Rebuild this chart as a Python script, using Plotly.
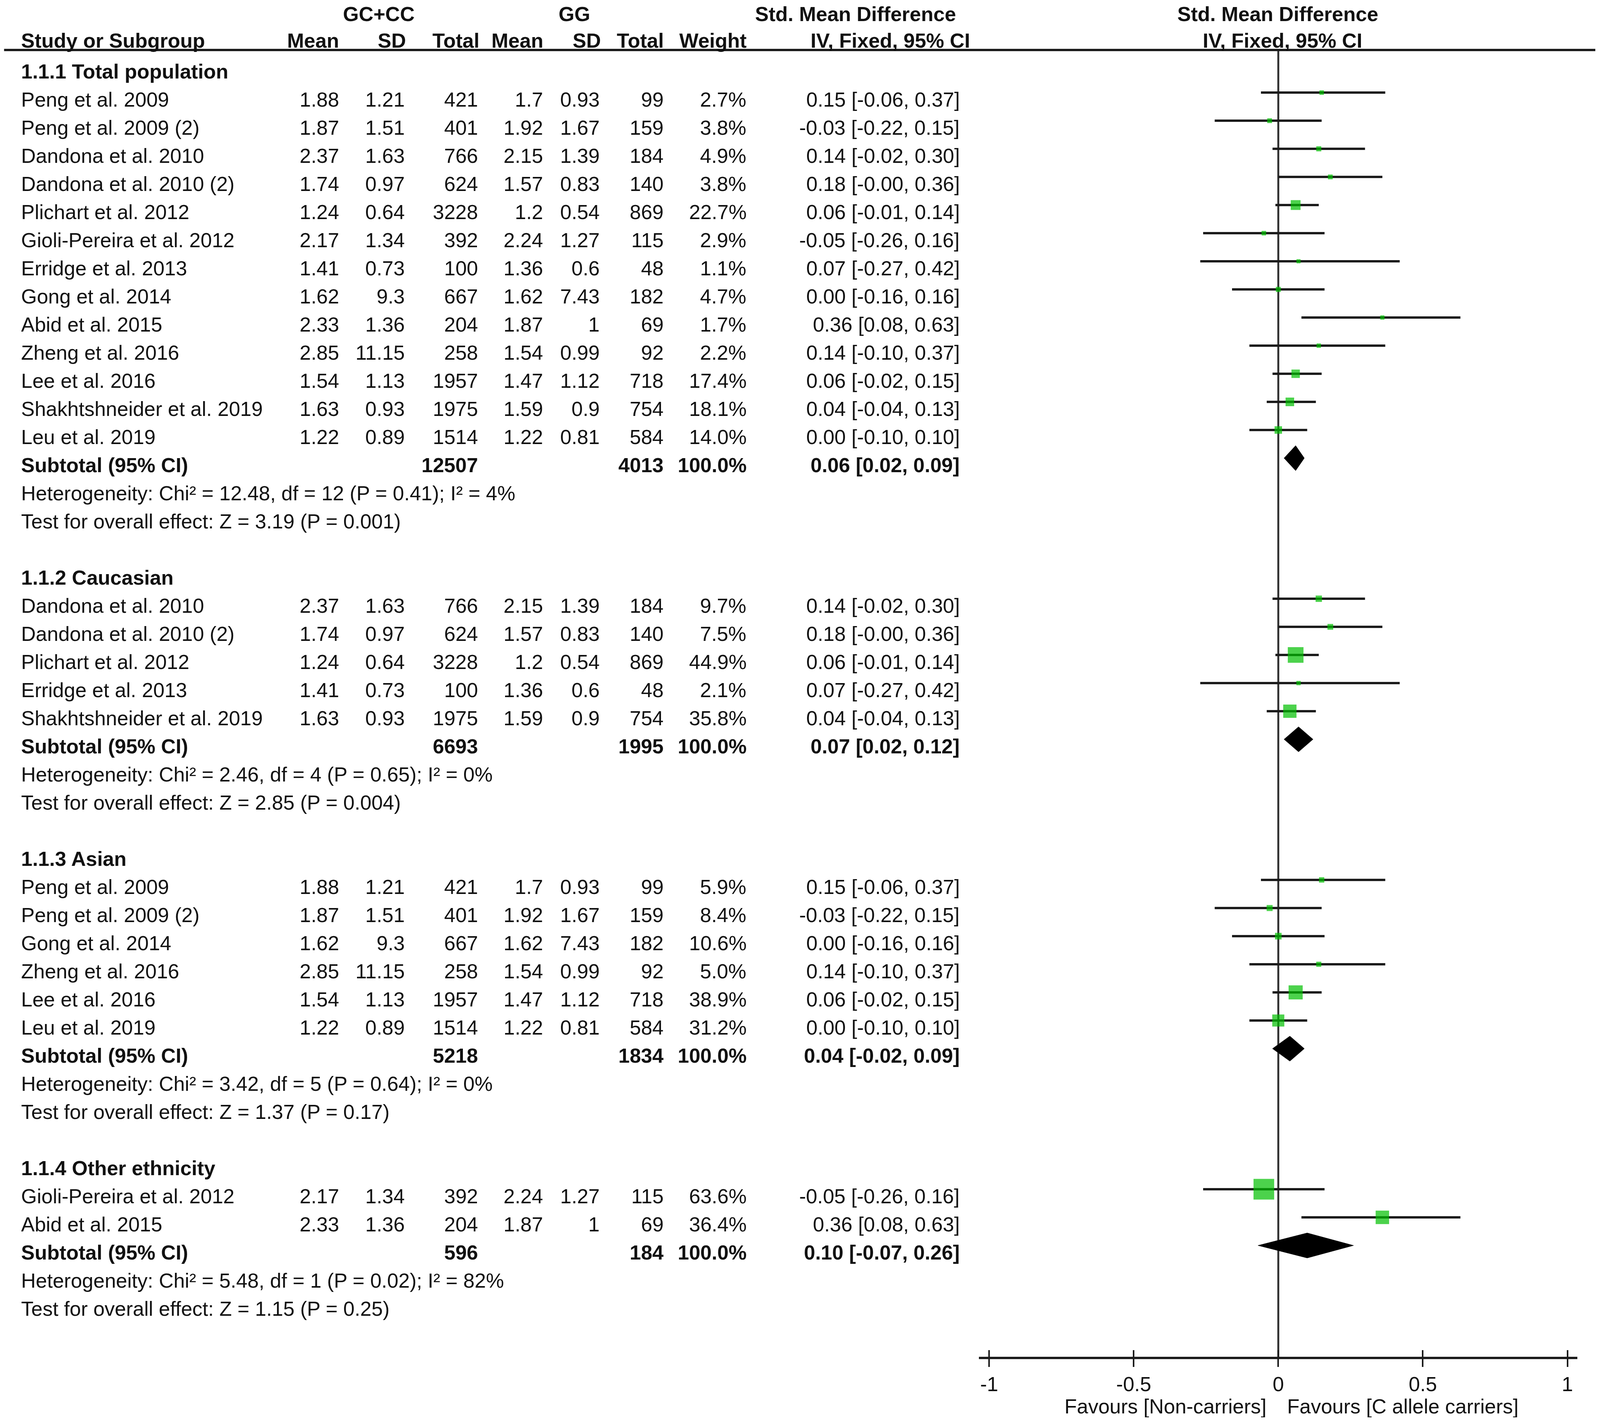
import plotly.graph_objects as go

# ---------------- data ----------------
study_names = ["Peng et al. 2009", "Peng et al. 2009 (2)", "Dandona et al. 2010", "Dandona et al. 2010 (2)",
               "Plichart et al. 2012", "Gioli-Pereira et al. 2012", "Erridge et al. 2013", "Gong et al. 2014",
               "Abid et al. 2015", "Zheng et al. 2016", "Lee et al. 2016", "Shakhtshneider et al. 2019",
               "Leu et al. 2019"]
gc_mean = [1.88, 1.87, 2.37, 1.74, 1.24, 2.17, 1.41, 1.62, 2.33, 2.85, 1.54, 1.63, 1.22]
gc_sd = [1.21, 1.51, 1.63, 0.97, 0.64, 1.34, 0.73, 9.3, 1.36, 11.15, 1.13, 0.93, 0.89]
gc_total = [421, 401, 766, 624, 3228, 392, 100, 667, 204, 258, 1957, 1975, 1514]
gg_mean = [1.7, 1.92, 2.15, 1.57, 1.2, 2.24, 1.36, 1.62, 1.87, 1.54, 1.47, 1.59, 1.22]
gg_sd = [0.93, 1.67, 1.39, 0.83, 0.54, 1.27, 0.6, 7.43, 1, 0.99, 1.12, 0.9, 0.81]
gg_total = [99, 159, 184, 140, 869, 115, 48, 182, 69, 92, 718, 754, 584]
smd = [0.15, -0.03, 0.14, 0.18, 0.06, -0.05, 0.07, 0.00, 0.36, 0.14, 0.06, 0.04, 0.00]
ci_low = [-0.06, -0.22, -0.02, -0.00, -0.01, -0.26, -0.27, -0.16, 0.08, -0.10, -0.02, -0.04, -0.10]
ci_high = [0.37, 0.15, 0.30, 0.36, 0.14, 0.16, 0.42, 0.16, 0.63, 0.37, 0.15, 0.13, 0.10]

group_titles = ["1.1.1 Total population", "1.1.2 Caucasian", "1.1.3 Asian", "1.1.4 Other ethnicity"]
group_members = [[0, 1, 2, 3, 4, 5, 6, 7, 8, 9, 10, 11, 12],
                 [2, 3, 4, 6, 11],
                 [0, 1, 7, 9, 10, 12],
                 [5, 8]]
group_weights = [[2.7, 3.8, 4.9, 3.8, 22.7, 2.9, 1.1, 4.7, 1.7, 2.2, 17.4, 18.1, 14.0],
                 [9.7, 7.5, 44.9, 2.1, 35.8],
                 [5.9, 8.4, 10.6, 5.0, 38.9, 31.2],
                 [63.6, 36.4]]
sub_gc_total = [12507, 6693, 5218, 596]
sub_gg_total = [4013, 1995, 1834, 184]
sub_smd = [0.06, 0.07, 0.04, 0.10]
sub_low = [0.02, 0.02, -0.02, -0.07]
sub_high = [0.09, 0.12, 0.09, 0.26]
het_chi2 = ["12.48", "2.46", "3.42", "5.48"]
het_df = [12, 4, 5, 1]
het_p = ["0.41", "0.65", "0.64", "0.02"]
het_i2 = [4, 0, 0, 82]
z_value = ["3.19", "2.85", "1.37", "1.15"]
z_p = ["0.001", "0.004", "0.17", "0.25"]

tick_vals = [-1, -0.5, 0, 0.5, 1]
tick_text = ["-1", "-0.5", "0", "0.5", "1"]

# ---------------- geometry (reference pixels -> page) ----------------
REF_W, REF_H = 4317, 3641
VIEW_W, VIEW_H = 4096, 3641          # visible browser viewport
BODY = 8                             # default body margin of the page
SX = VIEW_W / REF_W
W_F = VIEW_W - 2 * BODY - 4
H_F = VIEW_H - 2 * BODY - 4

FONT = "Liberation Sans"
FS = 52
TXT = "#111111"
GREEN = "#00BF00"
LINEC = "#1c1c1c"
ROW0 = 183.0      # reference pixel of row 0 centre
ROWH = 72.0       # reference pixel row height
GOFF = -0.25      # graphics sit slightly above the text centre
ZERO_X = 3449.0   # reference pixel of x = 0
UNIT_X = 780.0    # reference pixels per unit
XR = 1.035
AXIS_Y = 3477.0
HEADLINE_Y = 128.0


def row_of(ref_y):
    return (ref_y - ROW0) / ROWH


def px(ref_x):
    return (ref_x * SX - BODY) / W_F


col_name = 55
col_m1, col_s1, col_t1 = 917, 1094, 1292
col_m2, col_s2, col_t2 = 1467, 1620, 1793
col_w = 2016
col_ci = 2592

annotations = []


def txt(ref_x, row, s, anchor="right", bold=False, size=FS):
    annotations.append(dict(
        x=px(ref_x), xref="paper", y=row, yref="y",
        text=f"<b>{s}</b>" if bold else s,
        xanchor=anchor, yanchor="middle", showarrow=False,
        font=dict(family=FONT, size=size, color=TXT)))


def f2(v):
    return f"{v:.2f}"


# headers
rh1 = row_of(36)
rh2 = row_of(104)
txt(1022, rh1, "GC+CC", "center", True)
txt(1550, rh1, "GG", "center", True)
txt(2308, rh1, "Std. Mean Difference", "center", True)
txt(3448, rh1, "Std. Mean Difference", "center", True)
txt(col_name, rh2, "Study or Subgroup", "left", True)
txt(col_m1, rh2, "Mean", "right", True)
txt(col_s1 + 3, rh2, "SD", "right", True)
txt(col_t1 + 3, rh2, "Total", "right", True)
txt(col_m2 + 1, rh2, "Mean", "right", True)
txt(col_s2 + 3, rh2, "SD", "right", True)
txt(col_t2, rh2, "Total", "right", True)
txt(col_w, rh2, "Weight", "right", True)
txt(2402, rh2, "IV, Fixed, 95% CI", "center", True)
txt(3460, rh2, "IV, Fixed, 95% CI", "center", True)

# body
ci_x, ci_y = [], []
sq_x, sq_y, sq_s = [], [], []
dia_x, dia_y = [], []
DH = 0.445

row = 0
for g, title in enumerate(group_titles):
    txt(col_name, row, title, "left", True)
    row += 1
    for k, i in enumerate(group_members[g]):
        w = group_weights[g][k]
        txt(col_name, row, study_names[i], "left")
        txt(col_m1, row, str(gc_mean[i]))
        txt(col_s1, row, str(gc_sd[i]))
        txt(col_t1, row, str(gc_total[i]))
        txt(col_m2, row, str(gg_mean[i]))
        txt(col_s2, row, str(gg_sd[i]))
        txt(col_t2, row, str(gg_total[i]))
        txt(col_w, row, f"{w:.1f}%")
        txt(col_ci, row, f"{f2(smd[i])} [{f2(ci_low[i])}, {f2(ci_high[i])}]")
        yy = row + GOFF
        ci_x += [ci_low[i], ci_high[i], None]
        ci_y += [yy, yy, None]
        sq_x.append(smd[i])
        sq_y.append(yy)
        sq_s.append(0.97 * (10 + 0.7 * w))
        row += 1
    # subtotal
    txt(col_name, row, "Subtotal (95% CI)", "left", True)
    txt(col_t1, row, str(sub_gc_total[g]), "right", True)
    txt(col_t2, row, str(sub_gg_total[g]), "right", True)
    txt(col_w, row, "100.0%", "right", True)
    txt(col_ci, row, f"{f2(sub_smd[g])} [{f2(sub_low[g])}, {f2(sub_high[g])}]", "right", True)
    yy = row + GOFF
    dia_x += [sub_low[g], sub_smd[g], sub_high[g], sub_smd[g], sub_low[g], None]
    dia_y += [yy, yy - DH, yy, yy + DH, yy, None]
    row += 1
    txt(col_name, row, f"Heterogeneity: Chi² = {het_chi2[g]}, df = {het_df[g]} (P = {het_p[g]}); I² = {het_i2[g]}%", "left")
    row += 1
    txt(col_name, row, f"Test for overall effect: Z = {z_value[g]} (P = {z_p[g]})", "left")
    row += 2

# favours labels
rfav = row_of(3601)
annotations.append(dict(x=0, xref="x", y=rfav, yref="y", text="Favours [Non-carriers]",
                        xanchor="right", yanchor="middle", xshift=-30 * SX, showarrow=False,
                        font=dict(family=FONT, size=FS, color=TXT)))
annotations.append(dict(x=0, xref="x", y=rfav, yref="y", text="Favours [C allele carriers]",
                        xanchor="left", yanchor="middle", xshift=22 * SX, showarrow=False,
                        font=dict(family=FONT, size=FS, color=TXT)))

fig = go.Figure()
fig.add_trace(go.Scatter(x=ci_x, y=ci_y, mode="lines", line=dict(color=LINEC, width=6),
                         hoverinfo="skip", showlegend=False))
fig.add_trace(go.Scatter(x=sq_x, y=sq_y, mode="markers",
                         marker=dict(symbol="square", size=sq_s, color=GREEN, line=dict(width=0)),
                         showlegend=False))
fig.add_trace(go.Scatter(x=dia_x, y=dia_y, mode="lines", fill="toself", fillcolor="#000000",
                         line=dict(color="#000000", width=1), showlegend=False))
# helper (invisible) trace so the overlay axis with inward ticks is drawn
fig.add_trace(go.Scatter(x=tick_vals, y=[None] * len(tick_vals), xaxis="x2", mode="markers",
                         showlegend=False, hoverinfo="skip"))

y_top = row_of(BODY)
y_bot = row_of(BODY + H_F)
xdom = [px(ZERO_X - XR * UNIT_X), px(ZERO_X + XR * UNIT_X)]
axis_pos = 1 - (AXIS_Y - BODY) / H_F

fig.update_layout(
    width=W_F, height=H_F,
    margin=dict(l=0, r=0, t=0, b=0),
    paper_bgcolor="white", plot_bgcolor="rgba(0,0,0,0)",
    showlegend=False,
    xaxis=dict(domain=xdom, range=[-XR, XR], anchor="free", position=axis_pos,
               showgrid=False, zeroline=False, showline=True, linewidth=6, linecolor=LINEC,
               ticks="outside", ticklen=20, tickwidth=4, tickcolor=LINEC,
               tickvals=tick_vals, ticktext=tick_text,
               tickfont=dict(family=FONT, size=FS, color=TXT), fixedrange=True),
    xaxis2=dict(domain=xdom, range=[-XR, XR], anchor="free", position=axis_pos, overlaying="x",
                showgrid=False, zeroline=False, showline=False,
                ticks="inside", ticklen=20, tickwidth=4, tickcolor=LINEC,
                tickvals=tick_vals, showticklabels=False),
    yaxis=dict(domain=[0, 1], range=[y_bot, y_top], visible=False, showgrid=False, zeroline=False),
    annotations=annotations,
    shapes=[
        dict(type="line", xref="paper", yref="y", x0=px(11), x1=px(4306),
             y0=row_of(HEADLINE_Y), y1=row_of(HEADLINE_Y), line=dict(color=LINEC, width=6)),
        dict(type="line", xref="x", yref="y", x0=0, x1=0,
             y0=row_of(HEADLINE_Y), y1=row_of(AXIS_Y), line=dict(color="#333333", width=5),
             layer="below"),
    ],
)

fig.write_html("out.html")
